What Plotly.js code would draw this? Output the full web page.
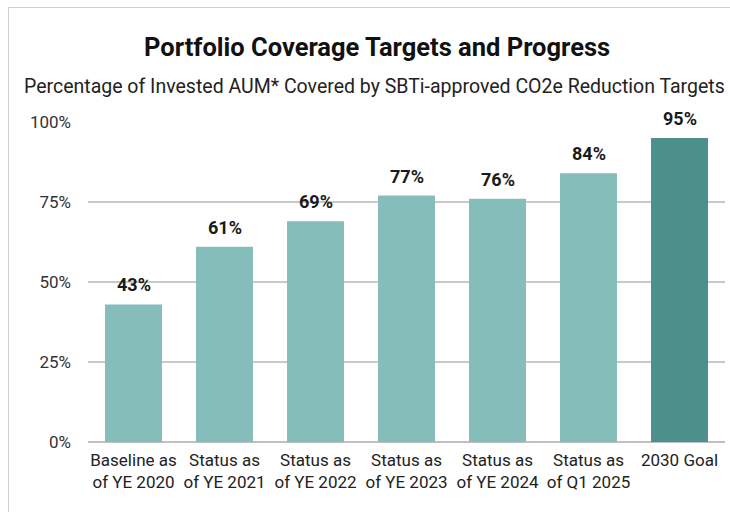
<!DOCTYPE html>
<html><head><meta charset="utf-8">
<script src="https://cdn.plot.ly/plotly-3.0.1.min.js"></script>
<style>
body{margin:0;background:#fff;}
#wrap{position:relative;width:730px;height:512px;}
#chart{width:730px;height:512px;}
#frame{position:absolute;left:8px;top:7px;width:740px;height:520px;border:1.5px solid #cfcfcf;pointer-events:none;}
</style></head>
<body>
<div id="wrap"><div id="chart"></div><div id="frame"></div></div>
<script>
const categories = ["Baseline as<br>of YE 2020","Status as<br>of YE 2021","Status as<br>of YE 2022","Status as<br>of YE 2023","Status as<br>of YE 2024","Status as<br>of Q1 2025","2030 Goal"];
const values = [43, 61, 69, 77, 76, 84, 95];
const labels = ["43%","61%","69%","77%","76%","84%","95%"];
const tickVals = [0, 25, 50, 75, 100];
const tickText = ["0%","25%","50%","75%","100%"];
const colors = values.map((v,i)=> i===values.length-1 ? "#4d8f8b" : "#85bdbb");

const trace = {
  type:"bar", x:categories, y:values, marker:{color:colors},
  hoverinfo:"skip"
};
const annotations = categories.map((c,i)=>({
  x:c, y:values[i], text:"<b>"+labels[i]+"</b>", showarrow:false,
  yanchor:"bottom", yshift:7, font:{family:"Roboto, sans-serif", size:18, color:"#1a1a1a"}
}));
annotations.push({xref:"paper", yref:"paper", x:0.4537, y:1, yshift:75, xanchor:"center", yanchor:"middle",
  text:"<b>Portfolio Coverage Targets and Progress</b>", showarrow:false,
  font:{family:"Roboto, sans-serif", size:25.5, color:"#111"}});
annotations.push({xref:"paper", yref:"paper", x:0.45, y:1, yshift:36, xanchor:"center", yanchor:"middle",
  text:"Percentage of Invested AUM* Covered by SBTi-approved CO2e Reduction Targets", showarrow:false,
  font:{family:"Roboto, sans-serif", size:19.5, color:"#222"}});

const layout = {
  width:730, height:512,
  margin:{l:88, r:5, t:122, b:70},
  paper_bgcolor:"#fff", plot_bgcolor:"#fff",
  bargap:0.374,
  showlegend:false,
  font:{family:"Roboto, sans-serif", color:"#333"},
  xaxis:{type:"category", tickfont:{size:17, color:"#222"}, showline:false, ticks:"", showgrid:false,
    ticklabelstandoff:6, tickangle:0, automargin:false},
  yaxis:{range:[0,100], tickvals:tickVals, ticktext:tickText, tickfont:{size:17, color:"#333"},
    showgrid:true, gridcolor:"#c8c8c8", gridwidth:1.5, zeroline:true, zerolinecolor:"#c0c0c0", zerolinewidth:2,
    ticks:"", ticklabelstandoff:16, fixedrange:true, automargin:false},
  annotations:annotations
};
Plotly.newPlot("chart",[trace],layout,{displayModeBar:false, staticPlot:true});
</script>
</body></html>
